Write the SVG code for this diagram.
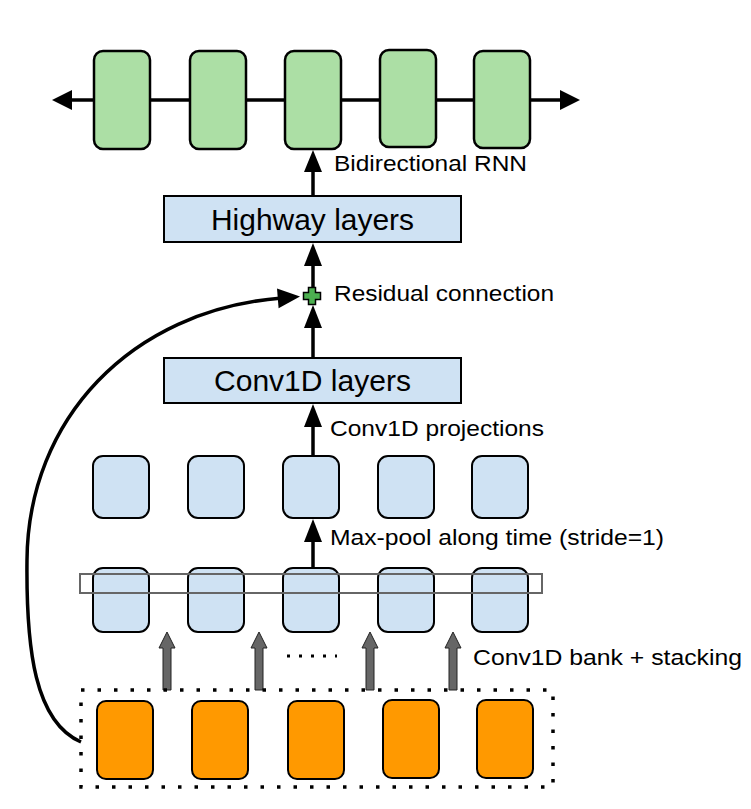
<svg xmlns="http://www.w3.org/2000/svg" width="751" height="809" viewBox="0 0 751 809">
<defs>
<style>
.g{fill:#acdfa5;stroke:#000;stroke-width:2.5}
.b{fill:#cfe2f3;stroke:#000;stroke-width:2}
.o{fill:#ff9900;stroke:#000;stroke-width:2}
.ln{stroke:#000;stroke-width:3.5;fill:none}
.t{font-family:"Liberation Sans",Arial,sans-serif;fill:#000}
.s{font-size:22.5px}
.big{font-size:30px}
.ga{fill:#666;stroke:#222;stroke-width:1}
</style>
</defs>
<rect width="751" height="809" fill="#fff"/>
<g id="connectors">
<line class="ln" x1="68" y1="100" x2="562" y2="100"/>
<path d="M52,100 L72,90 L72,110 z" fill="#000"/>
<path d="M580,100 L560,90 L560,110 z" fill="#000"/>
<line class="ln" x1="313" y1="196" x2="313" y2="170"/>
<path d="M313,150 L304,172 L322,172 z" fill="#000"/>
<line class="ln" x1="313" y1="289" x2="313" y2="265"/>
<path d="M313,243 L304,266 L322,266 z" fill="#000"/>
<line class="ln" x1="313" y1="358" x2="313" y2="327"/>
<path d="M313,305 L304,328 L322,328 z" fill="#000"/>
<line class="ln" x1="313" y1="456" x2="313" y2="425"/>
<path d="M313,404 L304,427 L322,427 z" fill="#000"/>
<line class="ln" x1="313" y1="568" x2="313" y2="540"/>
<path d="M313,519 L304,542 L322,542 z" fill="#000"/>
<path class="ln" d="M81,742 C35,722 26,650 27,560 C28,420 130,310 282,298"/>
<path d="M300,296.5 L277,288.4 L278.6,308.2 z" fill="#000"/>
<path class="ga" d="M163,690 L163,648 L159,648 L167,632 L175,648 L171,648 L171,690 z"/>
<path class="ga" d="M255,690 L255,648 L251,648 L259,632 L267,648 L263,648 L263,690 z"/>
<path class="ga" d="M366,690 L366,648 L362,648 L370,632 L378,648 L374,648 L374,690 z"/>
<path class="ga" d="M449,690 L449,648 L445,648 L453,632 L461,648 L457,648 L457,690 z"/>
<line x1="287" y1="656" x2="337" y2="656" stroke="#000" stroke-width="3" stroke-dasharray="3,9"/>
</g>
<g id="rnn">
<rect class="g" x="94" y="51" width="56" height="98" rx="9"/>
<rect class="g" x="190" y="51" width="56" height="98" rx="9"/>
<rect class="g" x="285" y="51" width="56" height="98" rx="9"/>
<rect class="g" x="380" y="50" width="56" height="97" rx="9"/>
<rect class="g" x="474" y="51" width="56" height="97" rx="9"/>
</g>
<g id="highway">
<rect class="b" x="164" y="196" width="297" height="46"/>
<text class="t big" x="211" y="229.5" textLength="203" lengthAdjust="spacingAndGlyphs">Highway layers</text>
</g>
<g id="residual">
<path d="M308.5,287.5 h7 v5 h5 v7 h-5 v5 h-7 v-5 h-5 v-7 h5 z" fill="#4caf50" stroke="#000" stroke-width="1.5"/>
</g>
<g id="conv1d">
<rect class="b" x="164" y="358" width="297" height="45"/>
<text class="t big" x="214" y="391" textLength="197" lengthAdjust="spacingAndGlyphs">Conv1D layers</text>
</g>
<g id="pooled">
<rect class="b" x="93" y="456" width="56" height="62" rx="10"/>
<rect class="b" x="188" y="456" width="56" height="62" rx="10"/>
<rect class="b" x="283" y="456" width="56" height="62" rx="10"/>
<rect class="b" x="378" y="456" width="56" height="62" rx="10"/>
<rect class="b" x="472" y="456" width="56" height="62" rx="10"/>
</g>
<g id="bank">
<rect class="b" x="93" y="568" width="56" height="64" rx="10"/>
<rect class="b" x="188" y="568" width="56" height="64" rx="10"/>
<rect class="b" x="283" y="568" width="56" height="64" rx="10"/>
<rect class="b" x="378" y="568" width="56" height="64" rx="10"/>
<rect class="b" x="472" y="568" width="56" height="64" rx="10"/>
<rect x="80" y="574" width="462" height="19" fill="none" stroke="#666" stroke-width="2"/>
</g>
<g id="inputs">
<rect x="81" y="690" width="472" height="97" fill="none" stroke="#000" stroke-width="3.5" stroke-dasharray="3.5,13"/>
<rect class="o" x="97" y="701" width="56" height="78" rx="9"/>
<rect class="o" x="192" y="701" width="56" height="78" rx="9"/>
<rect class="o" x="288" y="701" width="56" height="78" rx="9"/>
<rect class="o" x="383" y="700" width="56" height="78" rx="9"/>
<rect class="o" x="477" y="700" width="56" height="78" rx="9"/>
</g>
<g id="labels">
<text class="t s" x="334" y="170.5" textLength="193" lengthAdjust="spacingAndGlyphs">Bidirectional RNN</text>
<text class="t s" x="334" y="300.5" textLength="220" lengthAdjust="spacingAndGlyphs">Residual connection</text>
<text class="t s" x="330" y="436" textLength="214" lengthAdjust="spacingAndGlyphs">Conv1D projections</text>
<text class="t s" x="330" y="545" textLength="334" lengthAdjust="spacingAndGlyphs">Max-pool along time (stride=1)</text>
<text class="t s" x="473" y="665" textLength="269" lengthAdjust="spacingAndGlyphs">Conv1D bank + stacking</text>
</g>
</svg>
